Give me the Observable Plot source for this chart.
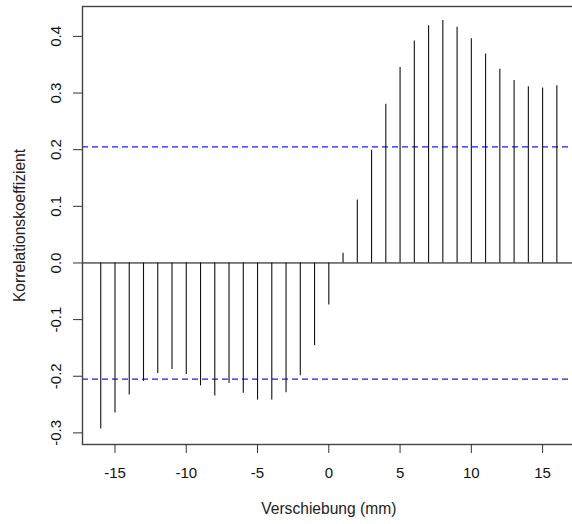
<!DOCTYPE html>
<html><head><meta charset="utf-8">
<script src="https://cdn.jsdelivr.net/npm/d3@7"></script>
<script src="https://cdn.jsdelivr.net/npm/@observablehq/plot@0.6"></script>
<style>body{margin:0;background:#fff} svg{display:block}</style>
</head><body><div id="chart"></div>
<script>
const lags = [-16,-15,-14,-13,-12,-11,-10,-9,-8,-7,-6,-5,-4,-3,-2,-1,0,1,2,3,4,5,6,7,8,9,10,11,12,13,14,15,16];
const ccf = [-0.293,-0.265,-0.233,-0.209,-0.195,-0.188,-0.197,-0.217,-0.235,-0.213,-0.230,-0.242,-0.242,-0.229,-0.199,-0.146,-0.074,
             0.017,0.111,0.199,0.280,0.345,0.392,0.419,0.428,0.416,0.396,0.369,0.342,0.322,0.311,0.309,0.313];
const ciBound = 0.205;
const xTicks = [-15,-10,-5,0,5,10,15];
const yTicks = [-0.3,-0.2,-0.1,0.0,0.1,0.2,0.3,0.4];
const xLabel = "Verschiebung (mm)";
const yLabel = "Korrelationskoeffizient";

const data = lags.map((lag, i) => ({lag, r: ccf[i]}));
const font = "'Liberation Sans', Arial, sans-serif";
const fsTick = 15;
const fsTitle = 15.6;

const chart = Plot.plot({
  width: 572, height: 524,
  marginLeft: 82, marginRight: -2.6, marginTop: 6, marginBottom: 80,
  style: {fontFamily: font, fontSize: fsTick + "px", color: "#111", background: "#fff"},
  x: {domain: [-17.28, 17.28]},
  y: {domain: [-0.3205, 0.4528]},
  marks: [
    Plot.ruleY([0], {stroke: "#000", strokeWidth: 1}),
    Plot.ruleY([ciBound, -ciBound], {stroke: "#1a1aff", strokeWidth: 1.1, strokeDasharray: "6,4"}),
    Plot.ruleX(data, {x: "lag", y1: 0, y2: "r", stroke: "#111", strokeWidth: 1.1}),
    Plot.frame({stroke: "#444", strokeWidth: 1.4}),
    Plot.axisX(xTicks, {tickSize: 9, tickPadding: 14, tickFormat: d => String(d), label: null, stroke: "#333", fontSize: fsTick}),
    Plot.axisY(yTicks, {tickSize: 9, tickFormat: () => "", label: null, stroke: "#333"}),
    Plot.text(yTicks, {y: d => d, text: d => d.toFixed(1), frameAnchor: "left", dx: -22, rotate: -90,
      textAnchor: "middle", lineAnchor: "bottom", fill: "#111", fontSize: fsTick}),
    Plot.text([xLabel], {text: d => d, frameAnchor: "bottom", dy: 69, lineAnchor: "bottom", fill: "#222", fontSize: fsTitle}),
    Plot.text([yLabel], {text: d => d, frameAnchor: "left", dx: -58, rotate: -90, textAnchor: "middle",
      lineAnchor: "bottom", fill: "#222", fontSize: fsTitle})
  ]
});
document.getElementById("chart").appendChild(chart);
</script>
</body></html>
